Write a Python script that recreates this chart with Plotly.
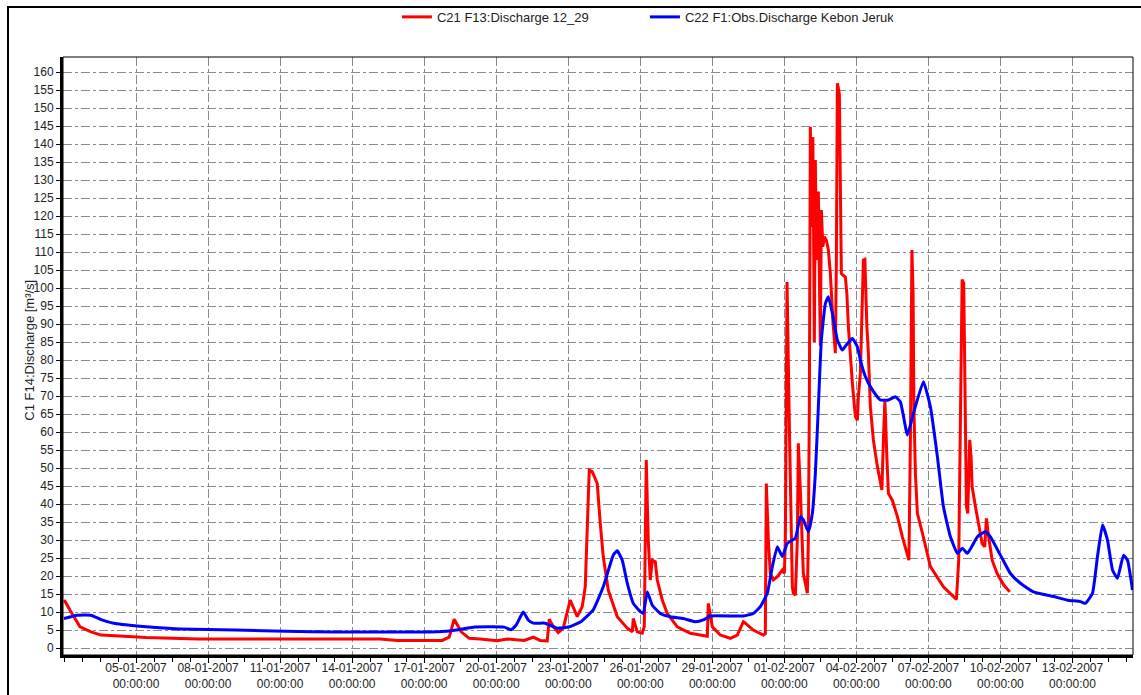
import pandas as pd
import plotly.graph_objects as go

start = pd.Timestamp("2007-01-02 00:00")

red_name = "C21 F13:Discharge 12_29"
blue_name = "C22 F1:Obs.Discharge Kebon Jeruk"
y_title = "C1 F14:Discharge [m³/s]"
y_ticks = list(range(0, 161, 5))
x_ticks = ["2007-01-05", "2007-01-08", "2007-01-11", "2007-01-14", "2007-01-17",
           "2007-01-20", "2007-01-23", "2007-01-26", "2007-01-29", "2007-02-01",
           "2007-02-04", "2007-02-07", "2007-02-10", "2007-02-13"]

# hours since 2007-01-02 00:00
red_hours = [0, 1, 6, 16, 27, 37, 51, 82, 134, 316, 333, 378, 385, 390, 397, 405, 416, 433,
             443, 460, 469, 476, 483, 485, 489, 494, 499, 506, 513, 518, 521, 523, 525, 528,
             533, 536, 539, 544, 553, 563, 568, 569, 573, 578, 580, 582, 584, 586, 588, 591,
             593, 598, 603, 613, 626, 643, 644, 648, 656, 666, 673, 679, 681, 689, 699, 701,
             702, 704, 706, 709, 713, 718, 720, 721, 722.7, 725, 728, 729, 731, 733, 734, 736,
             738, 739, 743, 744, 745, 746, 747, 748.5, 750, 751, 752, 753, 754, 755, 756, 757,
             758.5, 760, 762, 764, 766, 768.5, 771, 772, 773, 775, 776, 777, 781, 782.5, 784,
             786, 788, 791, 793, 794, 796, 799, 800.5, 802.5, 804, 806, 809, 813, 817.5, 819,
             820.5, 822.5, 824, 828, 833, 838, 843, 844.5, 846, 847.5, 848.7, 849.5, 851, 853,
             858, 866, 879, 892, 894.3, 896, 897.7, 899.3, 900.3, 902, 903.3, 905.3, 906.7,
             907.7, 911, 914.3, 917.7, 920.3, 922, 923.7, 927.7, 932.7, 939.3, 945.3]
red_values = [13.3, 13.0, 10.5, 5.9, 4.5, 3.6, 3.4, 2.9, 2.5, 2.5, 2.1, 2.1, 3.0, 8.0, 4.5, 2.7, 2.5, 2.0,
              2.5, 2.1, 3.0, 2.1, 2.0, 8.0, 6.0, 4.3, 5.5, 13.3, 8.7, 11.5, 17.0, 34.6, 49.4, 49.0,
              45.7, 34.6, 25.4, 16.1, 8.7, 5.5, 4.5, 8.2, 4.5, 4.1, 6.0, 52.2, 30.0, 18.9, 24.4, 24.0,
              18.9, 13.3, 9.6, 5.9, 4.1, 3.3, 12.4, 5.9, 3.6, 2.7, 3.6, 7.3, 6.9, 5.0, 3.6, 4.0,
              45.7, 30.0, 20.7, 18.9, 19.8, 21.7, 20.7, 30.0, 101.7, 62.0, 17.0, 15.2, 14.7, 30.0, 56.9, 43.9,
              30.0, 20.7, 15.2, 30.0, 67.0, 144.8, 117.0, 142.0, 85.0, 135.6, 107.8, 120.7, 126.8, 104.0, 84.0, 121.7,
              111.5, 114.3, 113.3, 110.6, 104.0, 91.0, 81.9, 107.8, 156.9, 154.0, 131.0, 104.0, 103.0, 98.5, 89.3,
              80.0, 73.5, 64.3, 63.3, 69.8, 76.3, 107.8, 108.0, 89.3, 81.9, 67.0, 57.8, 50.4, 43.9, 57.8,
              68.9, 53.0, 43.0, 41.0, 36.5, 30.9, 26.3, 24.4, 57.8, 110.6, 98.5, 67.0, 48.5, 37.4,
              31.9, 22.6, 17.0, 13.5, 24.4, 67.0, 102.4, 101.3, 76.3, 39.3, 37.4, 57.8, 53.0,
              44.8, 39.3, 33.7, 29.0, 28.1, 36.0, 31.9, 24.4, 20.7, 17.5, 15.6]

blue_hours = [0, 13, 27, 37, 51, 82, 116, 171, 247, 374, 392, 409, 440, 447, 452, 459, 464, 469,
              481, 493, 505, 517, 529, 539, 549, 553, 558, 563, 569, 576, 579, 583, 588, 596,
              606, 619, 631, 639, 646, 679, 689, 696, 703, 708, 713, 718, 723, 731, 736, 739,
              744, 748, 751, 754, 757, 761, 764, 768, 773, 778, 783, 788, 793, 796, 801, 808,
              816, 824, 831, 836, 843, 849, 859, 866, 873, 879, 886, 893, 898, 903, 913, 921,
              926, 936, 946, 956, 969, 989, 1003, 1016, 1021, 1028, 1033, 1038, 1043, 1048,
              1053, 1059, 1063, 1068]
blue_values = [8.2, 9.1, 9.1, 7.9, 6.8, 5.9, 5.3, 5.0, 4.5, 4.5, 5.0, 5.8, 5.8, 5.1, 6.4, 10.0, 7.8, 6.9,
               6.9, 5.5, 5.9, 7.4, 10.6, 17.0, 25.8, 27.0, 24.4, 18.0, 12.4, 10.1, 9.6, 15.6, 11.9, 9.6,
               8.7, 8.2, 7.3, 7.8, 8.9, 8.9, 9.6, 11.5, 15.2, 22.6, 28.1, 25.4, 29.1, 30.5, 36.5, 35.6,
               32.3, 37.4, 48.5, 67.0, 85.6, 95.7, 97.6, 93.0, 85.6, 82.8, 84.6, 86.0, 83.7, 80.0, 75.4, 71.7,
               68.9, 68.9, 69.8, 68.4, 59.2, 65.2, 74.0, 67.0, 53.1, 39.3, 30.9, 26.3, 27.7, 26.3, 30.9, 32.3,
               30.9, 25.8, 20.7, 18.0, 15.6, 14.3, 13.3, 12.9, 12.4, 15.2, 25.4, 34.2, 30.0, 21.7,
               19.4, 25.8, 24.4, 16.1]

red_t = start + pd.to_timedelta(red_hours, unit="h")
blue_t = start + pd.to_timedelta(blue_hours, unit="h")

fig = go.Figure()
fig.add_trace(go.Scatter(x=red_t, y=red_values, mode="lines", name=red_name,
                         line=dict(color="#FF0000", width=3)))
fig.add_trace(go.Scatter(x=blue_t, y=blue_values, mode="lines", name=blue_name,
                         line=dict(color="#0000FF", width=3, shape="spline", smoothing=0.4)))

grid_col = "#8a8a8a"
fig.update_layout(
    width=1141, height=695,
    margin=dict(l=63, r=8, t=57, b=40, autoexpand=False),
    paper_bgcolor="white", plot_bgcolor="white",
    font=dict(family="Liberation Sans, Arial, sans-serif", size=12, color="#222222"),
    showlegend=True,
    legend=dict(orientation="h", x=0.3121, xanchor="left", y=1.067, yanchor="middle",
                font=dict(size=13, color="#222222"), bgcolor="rgba(0,0,0,0)",
                entrywidth=203, entrywidthmode="pixels"),
    shapes=[
        dict(type="rect", xref="paper", yref="paper", x0=0, x1=1, y0=0, y1=1,
             line=dict(color="black", width=1), layer="above"),
        dict(type="rect", xref="paper", yref="paper", x0=-0.0514, x1=1.03, y0=-0.12, y1=1.0836,
             line=dict(color="black", width=2), layer="above"),
    ],
    annotations=[
        dict(text=y_title, xref="paper", yref="paper", x=-0.0308, y=0.509, textangle=-90,
             showarrow=False, xanchor="center", yanchor="middle",
             font=dict(size=13, color="#222222")),
    ],
)

fig.update_xaxes(
    type="date",
    range=["2007-01-01 23:00", "2007-02-15 12:30"],
    tickvals=x_ticks,
    tickformat="%d-%m-%Y<br>%H:%M:%S",
    tickfont=dict(size=12),
    ticklabelstandoff=-5,
    showgrid=True, gridcolor=grid_col, griddash="dashdot", gridwidth=1,
    showline=True, linecolor="black", linewidth=3,
    ticks="outside", ticklen=5, tickcolor="black",
    minor=dict(tick0="2007-01-05", dtick=18 * 3600000, ticks="outside", ticklen=4,
               tickcolor="black", showgrid=False),
    zeroline=False,
)
fig.update_yaxes(
    range=[-1.94, 164.2],
    tickvals=y_ticks,
    showgrid=True, gridcolor=grid_col, griddash="dashdot", gridwidth=1,
    showline=True, linecolor="black", linewidth=3,
    ticks="outside", ticklen=4, tickcolor="black",
    zeroline=False,
)

fig.write_html("out.html",
               config={"displayModeBar": False},
               post_script="document.body.style.margin='0';document.body.style.overflow='hidden';")
